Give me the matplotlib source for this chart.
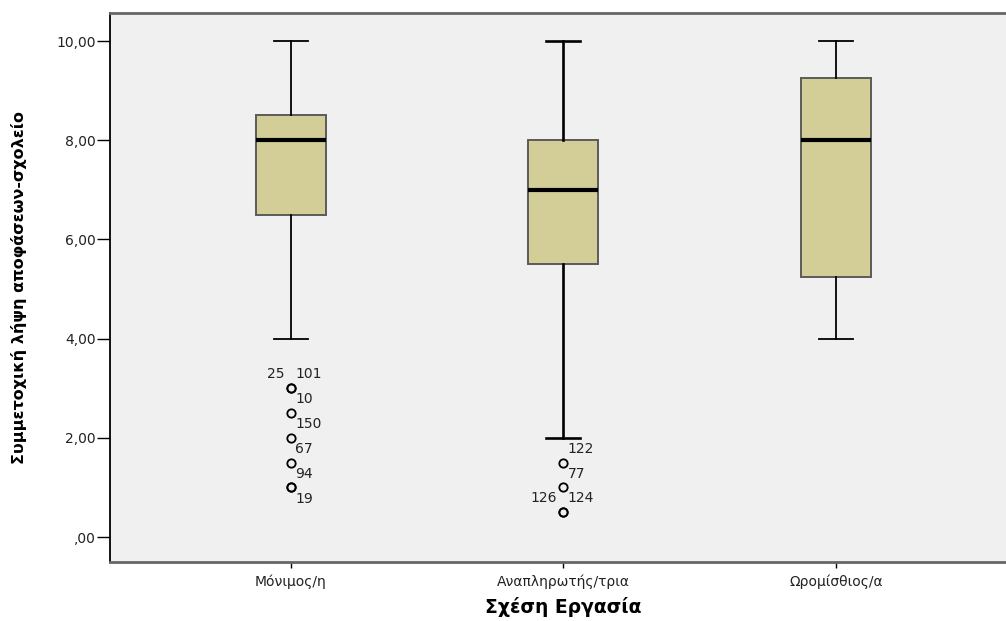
import matplotlib
matplotlib.use("Agg")
import matplotlib.pyplot as plt
from matplotlib.ticker import FixedLocator, FixedFormatter

# Box-plot summary per employment group
groups = ['Μόνιμος/η', 'Αναπληρωτής/τρια', 'Ωρομίσθιος/α']
medians = [8.0, 7.0, 8.0]
q1 = [6.5, 5.5, 5.25]
q3 = [8.5, 8.0, 9.25]
whisker_low = [4.0, 2.0, 4.0]
whisker_high = [10.0, 10.0, 10.0]

# Outlying cases (one entry per case) and their case numbers
outlier_values = [[3.0, 3.0, 2.5, 2.0, 1.5, 1.0, 1.0],
                  [1.5, 1.0, 0.5, 0.5],
                  []]
outlier_ids = [['101', '25', '10', '150', '67', '94', '19'],
               ['122', '77', '124', '126'],
               []]

y_ticks = [0, 2, 4, 6, 8, 10]
y_tick_labels = [',00', '2,00', '4,00', '6,00', '8,00', '10,00']
x_label = 'Σχέση Εργασία'
y_label = 'Συμμετοχική λήψη αποφάσεων-σχολείο'

# Where each case label sits relative to its circle
label_slots = [['ur', 'ul', 'ur', 'ur', 'ur', 'ur', 'lr'],
               ['ur', 'ur', 'ur', 'ul'],
               []]
slot_offsets = {'ur': ((3.2, 10.0), 'left'),
                'ul': ((-4.5, 10.0), 'right'),
                'lr': ((3.2, -8.0), 'left')}
whisker_widths = [1.3, 1.9, 1.3]

box_color = '#d3ce97'
panel_color = '#f0f0f0'

fig = plt.figure(figsize=(10.06, 6.21), dpi=100)
ax = fig.add_axes([0.1093, 0.095, 0.8907, 0.884])
ax.set_facecolor(panel_color)

positions = list(range(1, len(groups) + 1))
stats = []
for i, name in enumerate(groups):
    stats.append({
        'label': name,
        'med': medians[i],
        'q1': q1[i],
        'q3': q3[i],
        'whislo': whisker_low[i],
        'whishi': whisker_high[i],
        'fliers': outlier_values[i],
    })

art = ax.bxp(stats, positions=positions, widths=0.257, patch_artist=True,
             showfliers=True,
             boxprops=dict(facecolor=box_color, edgecolor='#5a5a5a', linewidth=1.4),
             medianprops=dict(color='black', linewidth=3.0, solid_capstyle='butt'),
             whiskerprops=dict(color='black', linewidth=1.3),
             capprops=dict(color='black', linewidth=1.3),
             capwidths=0.125,
             flierprops=dict(marker='o', markerfacecolor='none',
                             markeredgecolor='black', markersize=6.0,
                             markeredgewidth=1.3, linestyle='none'))

for i in range(len(groups)):
    for line in art['whiskers'][2 * i:2 * i + 2] + art['caps'][2 * i:2 * i + 2]:
        line.set_linewidth(whisker_widths[i])

# Case-number labels next to outliers
for i, pos in enumerate(positions):
    for val, cid, slot in zip(outlier_values[i], outlier_ids[i], label_slots[i]):
        off, ha = slot_offsets[slot]
        ax.annotate(cid, xy=(pos, val), xytext=off, textcoords='offset points',
                    ha=ha, va='center', fontsize=10, color='#222222',
                    family='DejaVu Sans')

ax.set_xlim(0.336, 3.624)
ax.set_ylim(-0.504, 10.565)

ax.yaxis.set_major_locator(FixedLocator(y_ticks))
ax.yaxis.set_major_formatter(FixedFormatter(y_tick_labels))
ax.set_xticks(positions)
ax.set_xticklabels(groups)

ax.tick_params(axis='y', direction='out', length=9.4, width=1.0, pad=1,
               labelsize=10, colors='black')
ax.tick_params(axis='x', direction='out', length=4.3, width=1.0, pad=5,
               labelsize=10, colors='black')
for lbl in ax.get_xticklabels() + ax.get_yticklabels():
    lbl.set_family('DejaVu Sans')
    lbl.set_color('#222222')

ax.spines['right'].set_visible(False)
ax.spines['left'].set_color('black')
ax.spines['left'].set_linewidth(1.3)
for side in ('top', 'bottom'):
    ax.spines[side].set_color('#666666')
    ax.spines[side].set_linewidth(2.0)

ax.set_xlabel(x_label, fontsize=13.5, fontweight='bold', family='DejaVu Sans',
              va='center')
ax.xaxis.set_label_coords(0.5056, -0.082)
ax.set_ylabel(y_label, fontsize=11.5, fontweight='bold',
              family=['DejaVu Sans Condensed', 'DejaVu Sans'], va='center')
ax.yaxis.set_label_coords(-0.102, 0.50)

fig.savefig('out.png', dpi=100, facecolor='white')
